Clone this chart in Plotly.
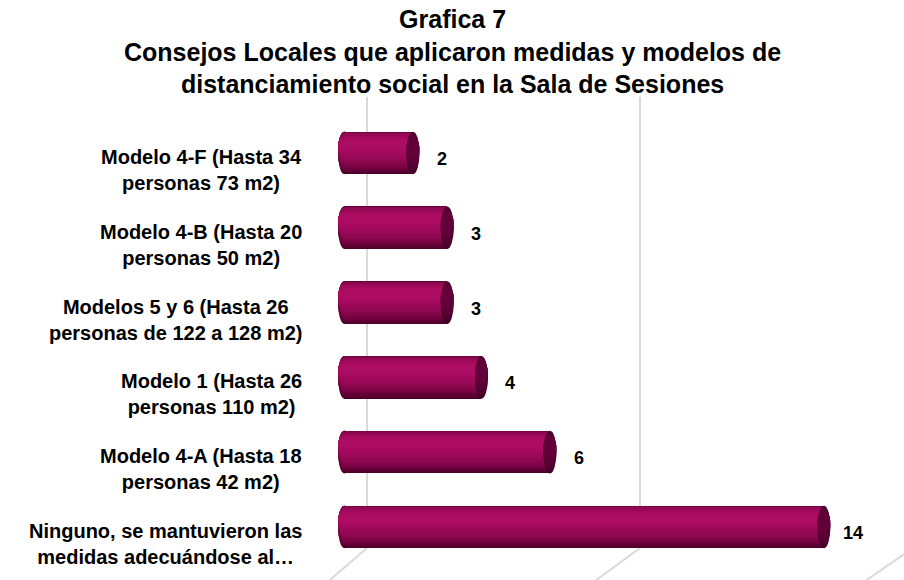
import plotly.graph_objects as go

# ---- data ----
categories = [
    "Modelo 4-F (Hasta 34<br>personas 73 m2)",
    "Modelo 4-B (Hasta 20<br>personas 50 m2)",
    "Modelos 5 y 6 (Hasta 26<br>personas de 122 a 128 m2)",
    "Modelo 1 (Hasta 26<br>personas 110 m2)",
    "Modelo 4-A (Hasta 18<br>personas 42 m2)",
    "Ninguno, se mantuvieron las<br>medidas adecuándose al…",
]
values = [2, 3, 3, 4, 6, 14]
grid_ticks = [0, 5, 10]          # back-wall gridlines (secondary scale)
title_lines = [
    "Grafica 7",
    "Consejos Locales que aplicaron medidas y modelos de",
    "distanciamiento social en la Sala de Sesiones",
]

# ---- style ----
FONT = "Liberation Sans"
W = 0.57          # bar thickness (category units)
CAP = 0.19        # half-width of end ellipse (value units)
body_layers = [   # (top fraction, bottom fraction, colour) – smooth cylinder shading
    (0.00, 1.00, "#4e002b"),
    (0.00, 0.95, "#5e0033"),
    (0.00, 0.90, "#6c003b"),
    (0.01, 0.85, "#790343"),
    (0.02, 0.79, "#84064a"),
    (0.04, 0.73, "#8e0850"),
    (0.06, 0.67, "#960855"),
    (0.09, 0.60, "#9d0959"),
    (0.12, 0.53, "#a30a5d"),
    (0.16, 0.46, "#a80b60"),
    (0.21, 0.39, "#ac0d63"),
]
cap_layers = [
    (0.00, 1.00, "#45002a"),
    (0.04, 0.90, "#520030"),
    (0.08, 0.78, "#5c0035"),
    (0.14, 0.62, "#640039"),
]

L, T, PW, PH = 326, 90, 578, 490   # plot area in pixels

idx = list(range(len(categories)))
fig = go.Figure()

shapes = []
# back-wall vertical gridlines + floor perspective lines
diag = [0.68, 0.80, 0.85]
for g, d in zip(grid_ticks, diag):
    shapes.append(dict(type="line", xref="x2", yref="paper", x0=g, x1=g, y0=0.0653, y1=0.986,
                       line=dict(color="#d9d9d9", width=2), layer="below"))
    shapes.append(dict(type="line", xref="x2", yref="paper", x0=g, x1=g - d, y0=0.0653, y1=0.0,
                       line=dict(color="#d9d9d9", width=2), layer="below"))

for (t, b, col) in body_layers:
    fig.add_trace(go.Bar(
        y=idx, x=values, orientation="h",
        width=(b - t) * W, offset=-W / 2 + t * W,
        marker=dict(color=col, line=dict(width=0)),
        hoverinfo="skip", showlegend=False,
    ))
    # left rounded end (below the bars)
    for i in idx:
        shapes.append(dict(type="circle", xref="x", yref="y",
                           x0=-CAP, x1=CAP, y0=i - W / 2 + t * W, y1=i - W / 2 + b * W,
                           fillcolor=col, line=dict(width=0), layer="below"))

# right end faces
for (t, b, col) in cap_layers:
    for i, v in zip(idx, values):
        shapes.append(dict(type="circle", xref="x", yref="y",
                           x0=v - CAP, x1=v + CAP,
                           y0=i - W / 2 + t * W, y1=i - W / 2 + b * W,
                           fillcolor=col, line=dict(width=0), layer="above"))

annotations = []
for i, (c, v) in enumerate(zip(categories, values)):
    annotations.append(dict(xref="paper", yref="y", x=0, y=i, xanchor="right", yanchor="middle",
                            xshift=-22, yshift=-17, align="center", showarrow=False, text=c,
                            font=dict(family=FONT, size=20, color="#000000", weight="bold")))
    annotations.append(dict(xref="x", yref="y", x=v, y=i, xanchor="center", yanchor="middle",
                            xshift=29, yshift=-6, showarrow=False, text=str(v),
                            font=dict(family=FONT, size=18, color="#000000", weight="bold")))

# title as a centred annotation (centre of page at x=452, middle line at y=52)
annotations.append(dict(xref="paper", yref="paper", x=(452 - L) / PW, y=(580 - 52) / PH,
                        xanchor="center", yanchor="middle", align="center", showarrow=False,
                        text="<br>".join(title_lines),
                        font=dict(family=FONT, size=25, color="#000000", weight="bold")))

fig.update_layout(
    width=904, height=580,
    margin=dict(l=L, r=904 - L - PW, t=T, b=580 - T - PH),
    paper_bgcolor="white", plot_bgcolor="white",
    barmode="overlay",
    xaxis=dict(range=[-0.54, 16.34], showgrid=False, zeroline=False, showticklabels=False,
               showline=False, ticks=""),
    xaxis2=dict(range=[-0.751, 9.835], overlaying="x", showgrid=False, zeroline=False,
                showticklabels=False, showline=False, ticks=""),
    yaxis=dict(range=[5.709, -0.842], showgrid=False, zeroline=False, showticklabels=False,
               showline=False, ticks=""),
    shapes=shapes,
    annotations=annotations,
    bargap=0,
)

fig.write_html("out.html", config={"displayModeBar": False},
               post_script="document.body.style.margin='0';")
